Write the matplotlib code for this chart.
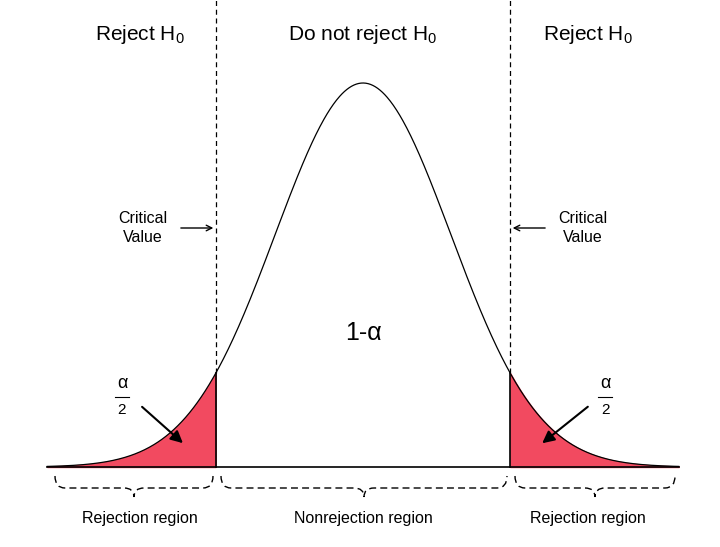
import numpy as np
import matplotlib
matplotlib.use("Agg")
import matplotlib.pyplot as plt
from matplotlib.path import Path
from matplotlib.patches import PathPatch

plt.rcParams['font.family'] = ['Liberation Sans', 'DejaVu Sans']

z_crit = 1.675
z_end = 3.6
labels_top = ["Reject H$_0$", "Do not reject H$_0$", "Reject H$_0$"]
labels_bottom = ["Rejection region", "Nonrejection region", "Rejection region"]
center_label = "1-α"
red = "#F24A60"

SX, CX = 87.7, 363.0
SY, BY = 384.0, 467.0
def X(px): return (px - CX) / SX
def Y(py): return (BY - py) / SY

fig = plt.figure(figsize=(7.2, 5.47), dpi=100)
ax = fig.add_axes([0, 0, 1, 1])
ax.set_xlim(X(0), X(720)); ax.set_ylim(Y(547), Y(0)); ax.axis("off")
plt.rcParams['mathtext.fontset'] = 'custom'
plt.rcParams['mathtext.rm'] = 'Liberation Sans'

z = np.linspace(-z_end, z_end, 800)
f = np.exp(-z**2 / 2)
ax.plot(z, f, color="black", lw=0.9)
ax.plot([-z_end, z_end], [0, 0], color="black", lw=1.2)
zl = z[z <= -z_crit]; zr = z[z >= z_crit]
ax.fill_between(zl, 0, np.exp(-zl**2/2), color=red)
ax.fill_between(zr, 0, np.exp(-zr**2/2), color=red)
for s in (-1, 1):
    ax.plot([s*z_crit]*2, [0, np.exp(-z_crit**2/2)], color="black", lw=1.2)
    ax.plot([s*z_crit]*2, [np.exp(-z_crit**2/2), Y(0)], color="black", lw=0.9, ls=(0, (4, 3)))

fs = 15
for px, t in zip([140, 363, 588], labels_top):
    ax.text(X(px), Y(35), t, ha="center", va="center", fontsize=fs)
for px, t in zip([140, 363, 588], labels_bottom):
    ax.text(X(px), Y(518), t, ha="center", va="center", fontsize=11.5)
ax.text(0, Y(333), center_label, ha="center", va="center", fontsize=18)

for px, tx in [(143, -z_crit), (583, z_crit)]:
    ax.text(X(px), Y(228), "Critical\nValue", ha="center", va="center", fontsize=11.5, linespacing=1.3)
    start = X(px) + (0.4 if tx < 0 else -0.4)
    ax.annotate("", xy=(tx, Y(228)), xytext=(start, Y(228)),
                arrowprops=dict(arrowstyle="->", lw=1, color="black"))

for px, ax0, ay0, ax1, ay1 in [(122, 140, 405, 185, 445), (605, 590, 405, 540, 445)]:
    ax.text(X(px), Y(383), "α", ha="center", va="center", fontsize=13)
    ax.plot([X(px-7), X(px+7)], [Y(397)]*2, color="black", lw=0.8)
    ax.text(X(px), Y(410), "2", ha="center", va="center", fontsize=11)
    ax.annotate("", xy=(X(ax1), Y(ay1)), xytext=(X(ax0), Y(ay0)),
                arrowprops=dict(arrowstyle="-|>", lw=1.5, color="black", mutation_scale=18))

def brace(p0, p1):
    m = (p0 + p1) / 2
    pts = [(p0, 476), (p0, 488), (p0 + 10, 488), (m - 10, 488), (m, 488), (m, 497),
           (m, 488), (m + 10, 488), (p1 - 10, 488), (p1, 488), (p1, 476)]
    codes = [Path.MOVETO, Path.CURVE3, Path.CURVE3, Path.LINETO, Path.CURVE3, Path.CURVE3,
             Path.CURVE3, Path.CURVE3, Path.LINETO, Path.CURVE3, Path.CURVE3]
    path = Path([(X(a), Y(b)) for a, b in pts], codes)
    ax.add_patch(PathPatch(path, fill=False, ls=(0, (5, 3)), lw=1, color="black"))

brace(55, 213); brace(221, 507); brace(515, 675)
fig.savefig("out.png", dpi=100, facecolor="white")
